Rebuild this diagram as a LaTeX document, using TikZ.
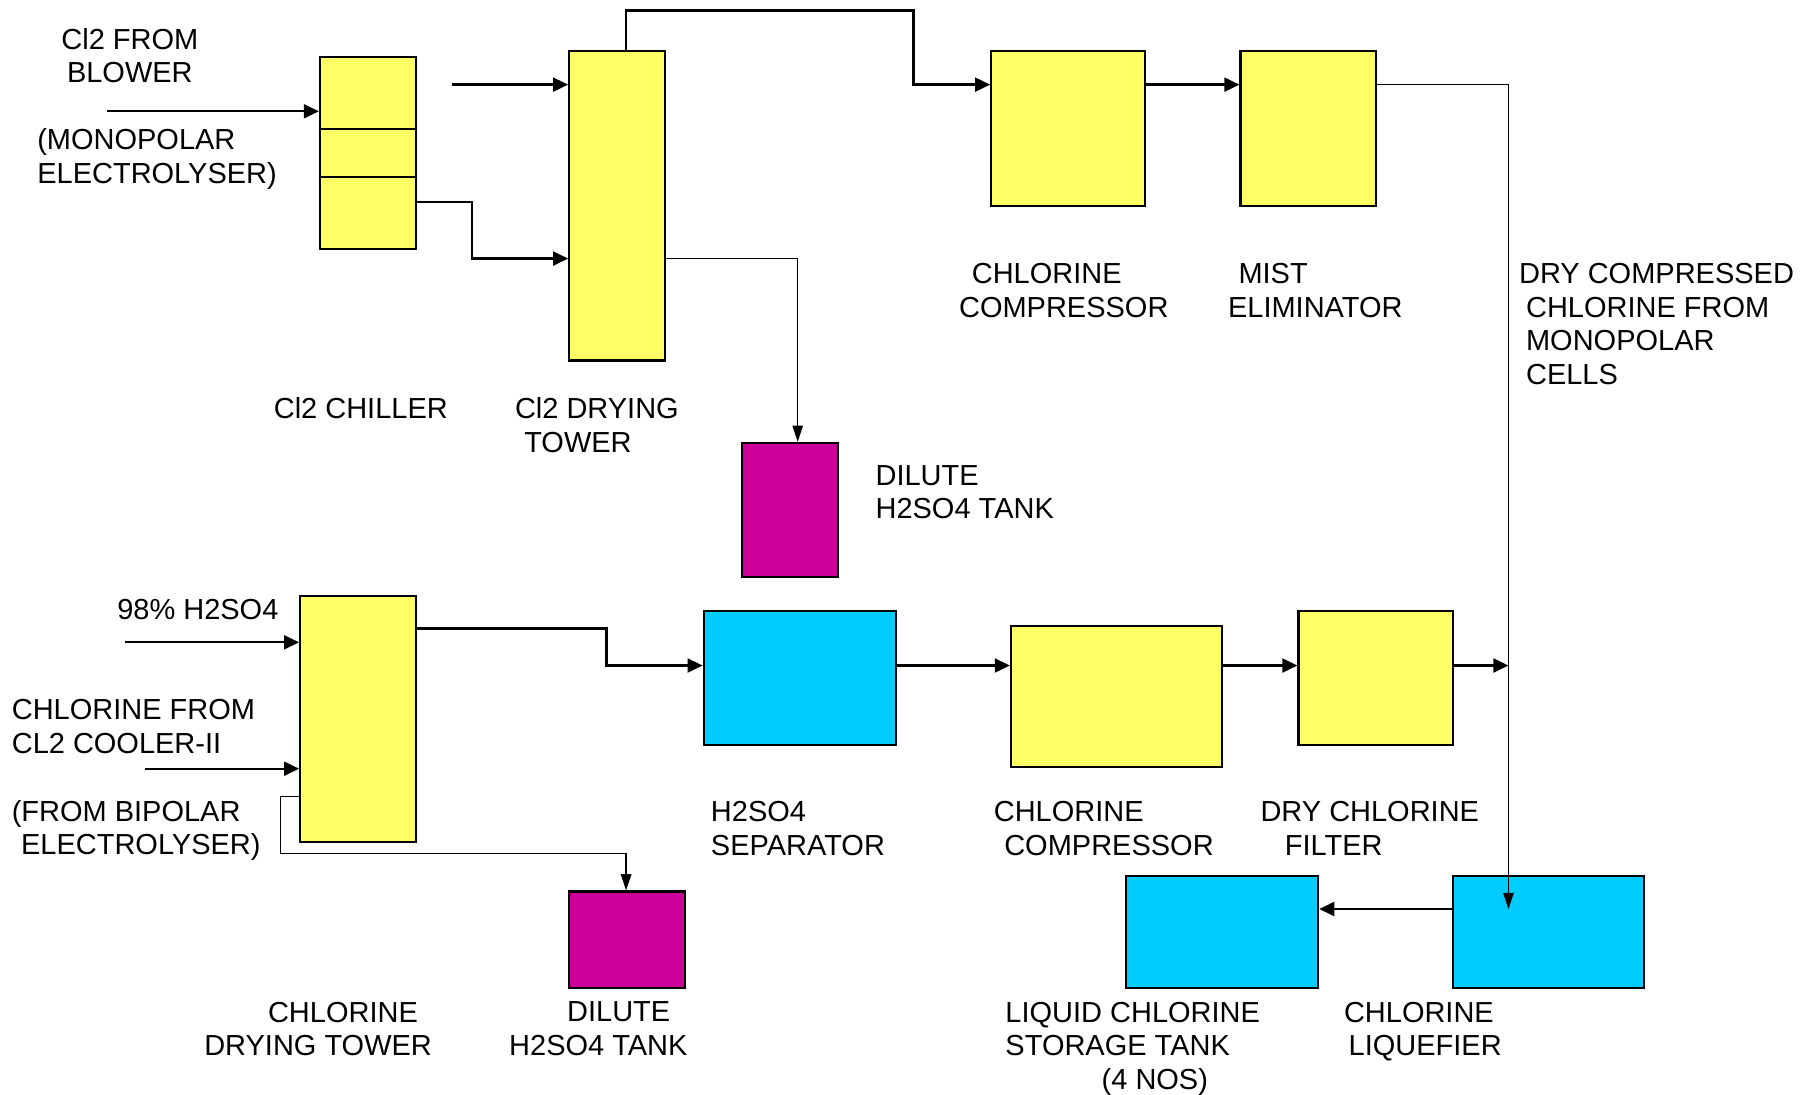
\documentclass[tikz,border=0pt]{standalone}
\usepackage{fontspec}
\setmainfont{Liberation Sans}
\usepackage{tikz}
\usetikzlibrary{arrows.meta, positioning}
\definecolor{unityellow}{RGB}{255,255,102}
\definecolor{unitcyan}{RGB}{0,204,255}
\definecolor{unitmagenta}{RGB}{204,0,153}

\begin{document}
\begin{tikzpicture}[x=1pt, y=-1pt,
  unit/.style={draw, line width=1.8pt, anchor=north west, inner sep=0pt},
  flow/.style={line width=2pt, -{Triangle[length=13pt, width=12pt]}},
  thinflow/.style={line width=1.2pt, -{Triangle[length=14pt, width=9pt]}},
  lbl/.style={font=\fontsize{25}{29}\selectfont, align=left, anchor=north west, inner sep=0pt}]
  \useasboundingbox (0,0) rectangle (1568,944);

  %% Monopolar line
  \node[unit, fill=unityellow, minimum width=83pt, minimum height=166pt] (chiller) at (275,48) {};
  \draw[line width=1.8pt] (chiller.west |- 0,111) -- (chiller.east |- 0,111);
  \draw[line width=1.8pt] (chiller.west |- 0,153) -- (chiller.east |- 0,153);
  \node[unit, fill=unityellow, minimum width=83pt, minimum height=267pt] (tower) at (490,43) {};
  \node[unit, fill=unityellow, minimum width=133pt, minimum height=134pt] (compA) at (854,43) {};
  \node[unit, fill=unityellow, minimum width=117pt, minimum height=134pt] (mist) at (1069,43) {};
  \node[unit, fill=unitmagenta, minimum width=83pt, minimum height=116pt] (tankA) at (639,381) {};

  %% Bipolar line
  \node[unit, fill=unityellow, minimum width=100pt, minimum height=212pt] (dryTower) at (258,513) {};
  \node[unit, fill=unitcyan, minimum width=166pt, minimum height=116pt] (sep) at (606,526) {};
  \node[unit, fill=unityellow, minimum width=182pt, minimum height=122pt] (compB) at (871,539) {};
  \node[unit, fill=unityellow, minimum width=133pt, minimum height=116pt] (filter) at (1119,526) {};
  \node[unit, fill=unitmagenta, minimum width=100pt, minimum height=83pt] (tankB) at (490,768) {};
  \node[unit, fill=unitcyan, minimum width=166pt, minimum height=96pt] (store) at (970,755) {};
  \node[unit, fill=unitcyan, minimum width=165pt, minimum height=96pt] (liq) at (1252,755) {};

  %% free ends
  \coordinate (inBlower) at (92,96);
  \coordinate (inTop) at (390,73);
  \coordinate (inAcid) at (108,554);
  \coordinate (inCl) at (125,663);
  \coordinate (junction) at (1301,574);
  \coordinate (liqIn) at (1301,784);

  %% connectors
  \draw[flow] (inBlower) -- (inBlower -| chiller.west);
  \draw[flow] (inTop) -- (inTop -| tower.west);
  \draw[flow] (chiller.east |- 0,174) -- (407,174) |- (tower.west |- 0,223);
  \draw[flow] (540,43) -- (540,9) -| (788,73) -- (compA.west |- 0,73);
  \draw[flow] (compA.east |- 0,73) -- (mist.west |- 0,73);
  \draw[thinflow] (mist.east |- 0,73) -| (liqIn);
  \draw[thinflow] (tower.east |- 0,223) -| (tankA.north -| 688,0);

  \draw[flow] (inAcid) -- (inAcid -| dryTower.west);
  \draw[flow] (inCl) -- (inCl -| dryTower.west);
  \draw[thinflow] (dryTower.west |- 0,687) -- (242,687) |- (540,736) -- (tankB.north -| 540,0);
  \draw[flow] (dryTower.east |- 0,542) -- (523,542) |- (sep.west |- 0,574);
  \draw[flow] (sep.east |- 0,574) -- (compB.west |- 0,574);
  \draw[flow] (compB.east |- 0,574) -- (filter.west |- 0,574);
  \draw[flow] (filter.east |- 0,574) -- (junction);
  \draw[flow] (liq.west |- 0,784) -- (store.east |- 0,784);

  %% labels
  \node[lbl, align=center, anchor=north] (lBlower) at (112,24) {Cl2 FROM\\BLOWER};
  \node[lbl] (lMono) at (32,111) {(MONOPOLAR\\ELECTROLYSER)};
  \node[lbl] (lChiller) at (236,343) {Cl2 CHILLER};
  \node[lbl] (lTower) at (444,343) {Cl2 DRYING\\\hspace*{8pt}TOWER};
  \node[lbl] (lCompA) at (827,227) {\hspace*{11pt}CHLORINE\\COMPRESSOR};
  \node[lbl] (lMist) at (1059,227) {\hspace*{9pt}MIST\\ELIMINATOR};
  \node[lbl] (lDry) at (1310,227) {DRY COMPRESSED\\\hspace*{6pt}CHLORINE FROM\\\hspace*{6pt}MONOPOLAR\\\hspace*{6pt}CELLS};
  \node[lbl] (lTankA) at (755,401) {DILUTE\\H2SO4 TANK};
  \node[lbl] (lAcid) at (101,517) {98\% H2SO4};
  \node[lbl] (lCooler) at (10,603) {CHLORINE FROM\\CL2 COOLER-II};
  \node[lbl] (lBipolar) at (10,690) {(FROM BIPOLAR\\\hspace*{8pt}ELECTROLYSER)};
  \node[lbl] (lSep) at (613,691) {H2SO4\\SEPARATOR};
  \node[lbl] (lCompB) at (857,691) {CHLORINE\\\hspace*{9pt}COMPRESSOR};
  \node[lbl] (lFilter) at (1087,691) {DRY CHLORINE\\\hspace*{21pt}FILTER};
  \node[lbl] (lDryTower) at (176,864) {\hspace*{55pt}CHLORINE\\DRYING TOWER};
  \node[lbl] (lTankB) at (439,864) {\hspace*{50pt}DILUTE\\H2SO4 TANK};
  \node[lbl] (lStore) at (867,864) {LIQUID CHLORINE\\STORAGE TANK\\\hspace*{83pt}(4 NOS)};
  \node[lbl] (lLiq) at (1159,864) {CHLORINE\\\hspace*{4pt}LIQUEFIER};
\end{tikzpicture}
\end{document}
